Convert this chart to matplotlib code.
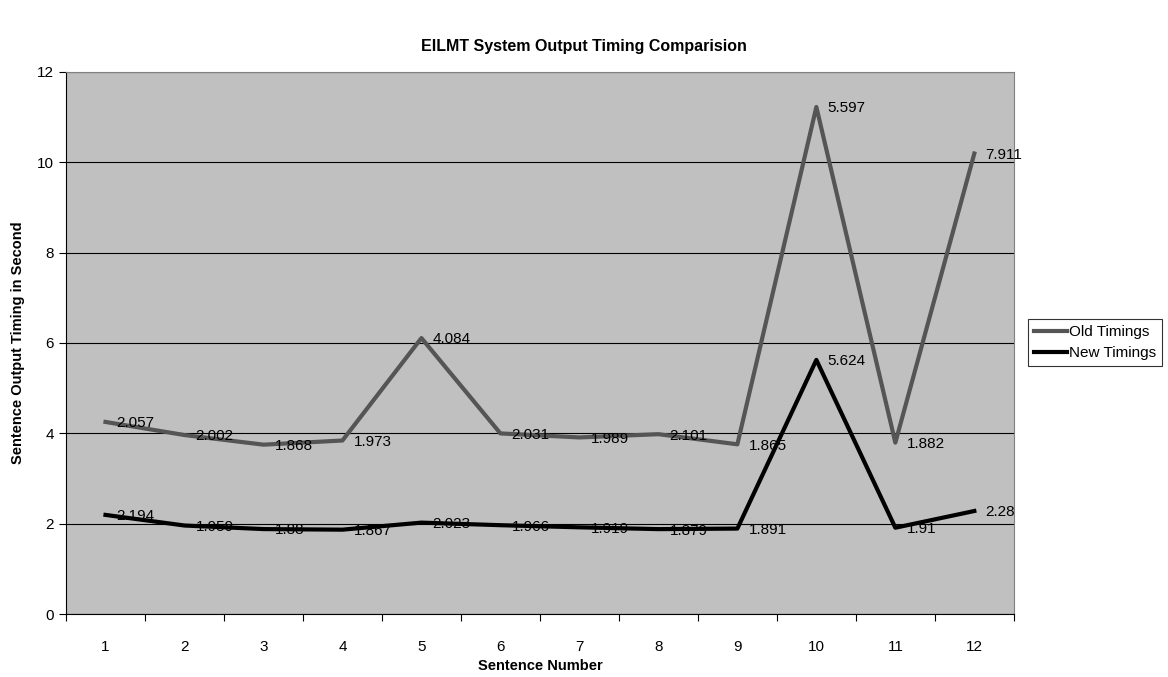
import matplotlib
matplotlib.use('Agg')
from matplotlib import pyplot as plt
import numpy as np

sentences = [1, 2, 3, 4, 5, 6, 7, 8, 9, 10, 11, 12]
old_timings = [2.057, 2.002, 1.868, 1.973, 4.084, 2.031, 1.989, 2.101, 1.865, 5.597, 1.882, 7.911]
new_timings = [2.194, 1.959, 1.88, 1.867, 2.023, 1.966, 1.919, 1.879, 1.891, 5.624, 1.91, 2.28]
old_labels = ['2.057', '2.002', '1.868', '1.973', '4.084', '2.031', '1.989', '2.101', '1.865', '5.597', '1.882', '7.911']
new_labels = ['2.194', '1.959', '1.88', '1.867', '2.023', '1.966', '1.919', '1.879', '1.891', '5.624', '1.91', '2.28']

plt.rcParams['font.family'] = ['Liberation Sans', 'DejaVu Sans']

fig = plt.figure(figsize=(11.68, 6.77), dpi=100)
ax = fig.add_axes([0.0565, 0.093, 0.8115, 0.801])
ax.set_facecolor('#c0c0c0')

x = np.arange(len(sentences)) + 0.5
# stacked line chart: old values sit on top of new values
new_arr = np.array(new_timings)
old_stacked = new_arr + np.array(old_timings)

ax.set_yticks(range(0, 13, 2))
ax.yaxis.grid(True, color='black', linewidth=0.8)
ax.set_axisbelow(True)

ax.plot(x, old_stacked, color='#555555', linewidth=3, label='Old Timings', zorder=3)
ax.plot(x, new_arr, color='black', linewidth=3, label='New Timings', zorder=3)

for xi, yi, t in zip(x, old_stacked, old_labels):
    ax.annotate(t, (xi, yi), xytext=(8, -1), textcoords='offset points',
                ha='left', va='center', fontsize=11, zorder=4)
for xi, yi, t in zip(x, new_arr, new_labels):
    ax.annotate(t, (xi, yi), xytext=(8, -1), textcoords='offset points',
                ha='left', va='center', fontsize=11, zorder=4)

ax.set_xlim(0, 12)
ax.set_ylim(0, 12)
ax.set_xticks(range(0, 13))
ax.set_xticklabels([])
ax.set_xticks(x, minor=True)
ax.set_xticklabels([str(s) for s in sentences], minor=True, fontsize=11)
ax.tick_params(axis='x', which='minor', length=0, pad=19)
ax.tick_params(axis='x', which='major', length=5, direction='out')
ax.tick_params(axis='y', length=5, labelsize=11)

for side in ['top', 'right']:
    ax.spines[side].set_color('#808080')
ax.spines['left'].set_color('black')
ax.spines['bottom'].set_color('black')

ax.set_xlabel('Sentence Number', fontsize=10.5, fontweight='bold', labelpad=3)
ax.set_ylabel('Sentence Output Timing in Second', fontsize=10.5, fontweight='bold', labelpad=9)
fig.suptitle('EILMT System Output Timing Comparision', fontsize=11.5, fontweight='bold', x=0.5, y=0.943)

leg = ax.legend(loc='center left', bbox_to_anchor=(1.0145, 0.5), frameon=True, fancybox=False,
                edgecolor='black', fontsize=11, handlelength=2.2, handletextpad=0.1,
                borderpad=0.4, labelspacing=0.45, borderaxespad=0)
leg.get_frame().set_linewidth(0.8)

fig.savefig('out.png', dpi=100)
